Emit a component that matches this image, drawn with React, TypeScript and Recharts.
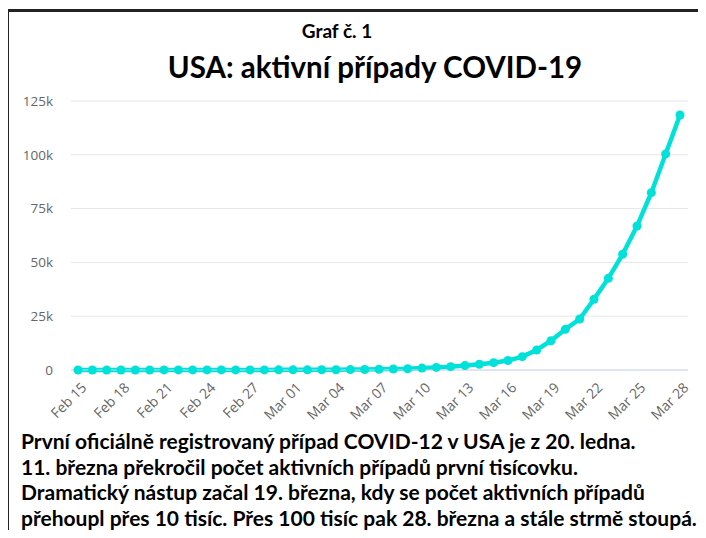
import React from "react";
import { LineChart, Line, XAxis, YAxis, CartesianGrid } from "recharts";

const dates = [
  "Feb 15", "Feb 16", "Feb 17", "Feb 18", "Feb 19", "Feb 20", "Feb 21", "Feb 22",
  "Feb 23", "Feb 24", "Feb 25", "Feb 26", "Feb 27", "Feb 28", "Feb 29",
  "Mar 01", "Mar 02", "Mar 03", "Mar 04", "Mar 05", "Mar 06", "Mar 07", "Mar 08",
  "Mar 09", "Mar 10", "Mar 11", "Mar 12", "Mar 13", "Mar 14", "Mar 15", "Mar 16",
  "Mar 17", "Mar 18", "Mar 19", "Mar 20", "Mar 21", "Mar 22", "Mar 23", "Mar 24",
  "Mar 25", "Mar 26", "Mar 27", "Mar 28",
];

const activeCases = [
  12, 12, 12, 12, 12, 12, 32, 32,
  32, 50, 50, 54, 55, 55, 60,
  66, 84, 104, 134, 190, 220, 370, 480,
  560, 880, 1200, 1550, 2050, 2650, 3400, 4400,
  6200, 9300, 13600, 18900, 23700, 32900, 42600, 53800,
  66900, 82400, 100400, 118500,
];

const yTicks = [0, 25000, 50000, 75000, 100000, 125000];

const titleTop = "Graf č. 1";
const titleMain = "USA: aktivní případy COVID-19";
const noteLines = [
  "První oficiálně registrovaný případ COVID-12 v USA je z 20. ledna.",
  "11. března překročil počet aktivních případů první tisícovku.",
  "Dramatický nástup začal 19. března, kdy se počet aktivních případů",
  "přehoupl přes 10 tisíc. Přes 100 tisíc pak 28. března a stále strmě stoupá.",
];

const data = dates.map((d, i) => ({ date: d, active: activeCases[i] }));

const tickFont = "'Open Sans', 'DejaVu Sans', sans-serif";
const textFont = "Lato, 'Noto Sans', sans-serif";

const DateTick = (props: any) => {
  const { x, y, payload } = props;
  return (
    <g transform={`translate(${x + 6},${y + 15}) rotate(-45)`}>
      <text x={0} y={0} dy="0.35em" textAnchor="end" fill="#666" fontSize={14} fontFamily={tickFont}>
        {payload.value}
      </text>
    </g>
  );
};

const fmtK = (v: number) => (v === 0 ? "0" : `${v / 1000}k`);

export default function App() {
  return (
    <div style={{ position: "relative", margin: -8, width: 706, height: 538, overflow: "hidden", background: "#fff" }}>
      <div
        style={{
          position: "absolute", left: 6, top: 9, width: 720, height: 560,
          borderTop: "3px solid #222", borderLeft: "3px solid #222", boxSizing: "border-box",
        }}
      />
      <div
        style={{
          position: "absolute", left: 0, width: 674, top: 19, textAlign: "center",
          fontFamily: textFont, fontWeight: 700, fontSize: 19, color: "#000", lineHeight: "24px",
        }}
      >
        {titleTop}
      </div>
      <div
        style={{
          position: "absolute", left: 0, width: 750, top: 50, textAlign: "center",
          fontFamily: textFont, fontWeight: 700, fontSize: 29.5, color: "#000", lineHeight: "34px",
        }}
      >
        {titleMain}
      </div>

      <div style={{ position: "absolute", left: 0, top: 90 }}>
        <LineChart width={706} height={340} data={data} margin={{ top: 11, right: 18, left: 0, bottom: 0 }}>
          <CartesianGrid vertical={false} stroke="#e6e6e6" />
          <XAxis
            dataKey="date"
            interval={2}
            tick={<DateTick />}
            tickLine={false}
            tickSize={0}
            tickMargin={0}
            height={60}
            axisLine={{ stroke: "#ccd6eb" }}
            padding={{ left: 7, right: 8 }}
          />
          <YAxis
            domain={[0, 125000]}
            ticks={yTicks}
            tickFormatter={fmtK}
            width={71}
            axisLine={false}
            tickLine={false}
            tickSize={0}
            tickMargin={18}
            tick={{ fill: "#666", fontSize: 13.5, fontFamily: tickFont }}
          />
          <Line
            type="linear"
            dataKey="active"
            stroke="#00e2d9"
            strokeWidth={4.5}
            dot={{ r: 4.5, fill: "#00e2d9", stroke: "none" }}
            isAnimationActive={false}
          />
        </LineChart>
      </div>

      <div
        style={{
          position: "absolute", left: 21, top: 428, whiteSpace: "nowrap",
          fontFamily: textFont, fontWeight: 700, fontSize: 21, color: "#000", lineHeight: "25.5px",
        }}
      >
        {noteLines.map((l, i) => (
          <div key={i}>{l}</div>
        ))}
      </div>
    </div>
  );
}
